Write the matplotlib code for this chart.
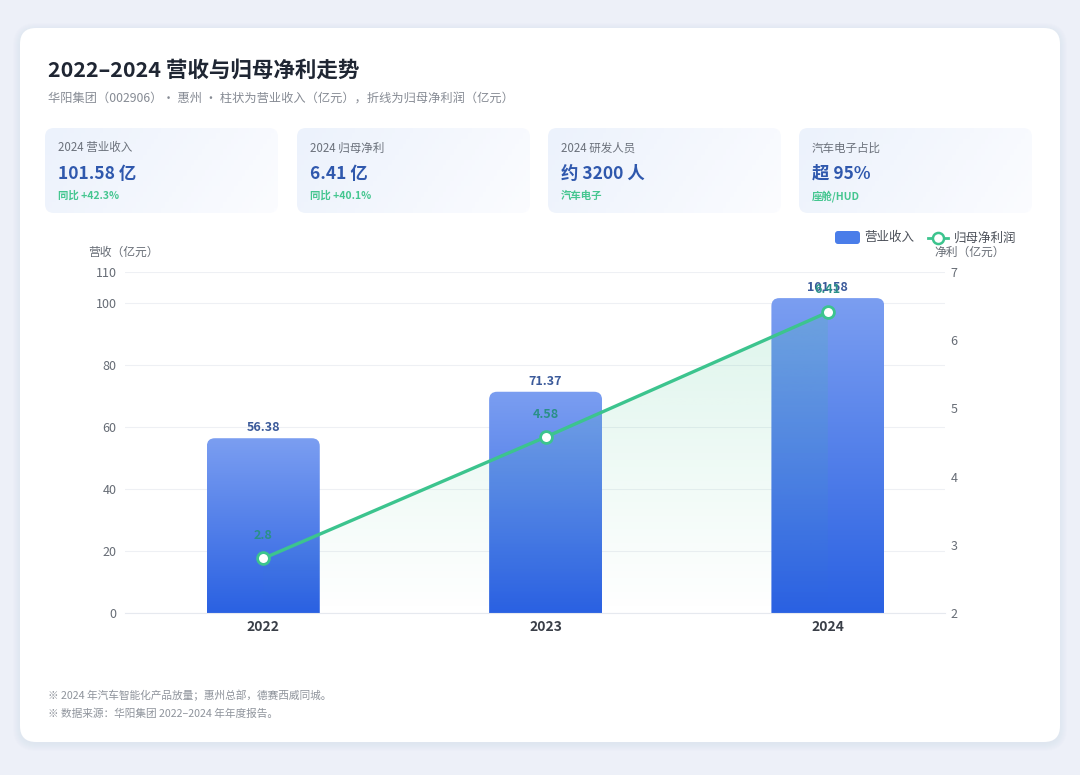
import numpy as np
import matplotlib
matplotlib.use('Agg')
import matplotlib.pyplot as plt
from matplotlib.patches import FancyBboxPatch, Polygon
from matplotlib.colors import LinearSegmentedColormap, to_rgb
from matplotlib.lines import Line2D

plt.rcParams['font.family'] = ['Noto Sans CJK SC', 'DejaVu Sans']

# data
years = ['2022', '2023', '2024']
revenue = [56.38, 71.37, 101.58]
profit = [2.8, 4.58, 6.41]
profit_labels = ['2.8', '4.58', '6.41']
rev_ticks = [0, 20, 40, 60, 80, 100, 110]
profit_ticks = [2, 3, 4, 5, 6, 7]

kpi_titles = ['2024 营业收入', '2024 归母净利', '2024 研发人员', '汽车电子占比']
kpi_values = ['101.58 亿', '6.41 亿', '约 3200 人', '超 95%']
kpi_notes = ['同比 +42.3%', '同比 +40.1%', '汽车电子', '座舱/HUD']

title = '2022–2024 营收与归母净利走势'
subtitle = '华阳集团（002906）· 惠州 · 柱状为营业收入（亿元），折线为归母净利润（亿元）'
notes = ['※ 2024 年汽车智能化产品放量；惠州总部，德赛西威同城。',
         '※ 数据来源：华阳集团 2022–2024 年年度报告。']

GREEN = '#3cc48e'
W, H = 1080, 775
fig = plt.figure(figsize=(W / 100, H / 100), dpi=100)
fig.patch.set_facecolor('#edf0f8')

# background layer in pixel coords
bg = fig.add_axes([0, 0, 1, 1])
bg.axis('off')

for i in range(8):
    bg.add_patch(FancyBboxPatch((20 - i, 30 - i), 1040 + 2 * i, 714 + 2 * i,
                                boxstyle=f'round,pad=0,rounding_size={16 + i}',
                                fc='#b8c3e0', ec='none', alpha=0.025))
bg.add_patch(FancyBboxPatch((20, 28), 1040, 714, boxstyle='round,pad=0,rounding_size=16',
                            fc='white', ec='none'))

bg.text(48, 70, title, fontsize=15.5, fontweight='bold', color='#1f2633', va='center')
bg.text(48, 99, subtitle, fontsize=8.8, color='#868b94', va='center')

card_x = [45, 297, 548, 799]
gx, gy = np.meshgrid(np.linspace(0, 1, 64), np.linspace(0, 1, 16))
kgrad = np.clip(0.8 * gx + 0.2 * gy, 0, 1)
kcmap = LinearSegmentedColormap.from_list('k', ['#ecf2fc', '#fbfcff'])
for cx, t, v, n in zip(card_x, kpi_titles, kpi_values, kpi_notes):
    p = FancyBboxPatch((cx, 128), 233, 85, boxstyle='round,pad=0,rounding_size=9',
                       fc='none', ec='none')
    bg.add_patch(p)
    bg.imshow(kgrad, cmap=kcmap, extent=(cx, cx + 233, 213, 128), aspect='auto',
              clip_path=p, zorder=2)
    bg.text(cx + 13, 148, t, fontsize=8.3, color='#6b717b', va='center', zorder=3)
    bg.text(cx + 13, 174, v, fontsize=12.5, fontweight='bold', color='#2f58ad', va='center', zorder=3)
    bg.text(cx + 13, 196, n, fontsize=7.5, fontweight='bold', color='#45c690', va='center', zorder=3)

# legend + axis titles
bg.add_patch(FancyBboxPatch((835, 231), 25, 13, boxstyle='round,pad=0,rounding_size=3',
                            fc='#4a7de9', ec='none'))
bg.text(864, 238, '营业收入', fontsize=9, color='#4b5059', va='center')
bg.add_line(Line2D([928, 948], [238, 238], color=GREEN, lw=2))
bg.add_line(Line2D([938], [238], marker='o', ms=8, mfc='white', mec=GREEN, mew=1.8))
bg.text(954, 238, '归母净利润', fontsize=9, color='#4b5059', va='center')
bg.text(88, 252, '营收（亿元）', fontsize=8.5, color='#666c75', va='center')
bg.text(934, 252, '净利（亿元）', fontsize=8.5, color='#666c75', va='center')

for k, line in enumerate(notes):
    bg.text(48, 695 + 19 * k, line, fontsize=7.7, color='#8f949c', va='center')

bg.set_xlim(0, W)
bg.set_ylim(H, 0)

# chart
ax = fig.add_axes([125 / W, 1 - 613 / H, 820 / W, 341 / H])
ax.set_facecolor('none')
x = np.arange(len(years))
ax.set_xlim(-0.49, 2.415)
ax.set_ylim(0, 110)
ax.grid(axis='y', color='#eef0f4', lw=0.8)
ax.set_axisbelow(True)

p0 = ax.transData.transform((0, 0))
p1 = ax.transData.transform((1, 1))
px_x, px_y = p1[0] - p0[0], p1[1] - p0[1]
aspect = px_x / px_y
rad = 8 / px_x

bar_cmap = LinearSegmentedColormap.from_list('b', ['#2a61e2', '#7b9ef1'])
grad = np.linspace(0, 1, 256).reshape(-1, 1)
bars = ax.bar(x, revenue, width=0.4, color='none', ec='none')
for b, v in zip(bars, revenue):
    bx, bw, bh = b.get_x(), b.get_width(), b.get_height()
    clip = FancyBboxPatch((bx, -6), bw, bh + 6, boxstyle=f'round,pad=0,rounding_size={rad}',
                          mutation_aspect=aspect, fc='none', ec='none', transform=ax.transData)
    ax.add_patch(clip)
    ax.imshow(grad, cmap=bar_cmap, extent=(bx, bx + bw, 0, bh), origin='lower',
              aspect='auto', clip_path=clip, zorder=2)
    ax.annotate(f'{v:.2f}', (b.get_x() + bw / 2, bh), xytext=(0, 7.5), textcoords='offset points',
                ha='center', va='center', fontsize=9, fontweight='bold', color='#3b5a9a', zorder=6)

ax.set_xticks(x, years)
ax.set_yticks(rev_ticks)
ax.tick_params(axis='y', length=0, pad=6, labelsize=9, labelcolor='#666c75')
ax.tick_params(axis='x', length=0, pad=5, labelsize=10, labelcolor='#3a3f48')
for lbl in ax.get_xticklabels():
    lbl.set_fontweight('bold')
for s in ['top', 'left', 'right']:
    ax.spines[s].set_visible(False)
ax.spines['bottom'].set_color('#e6e9ef')

ax2 = ax.twinx()
ax2.set_ylim(2, 7)
verts = list(zip(x, profit)) + [(x[-1], 2), (x[0], 2)]
poly = Polygon(verts, closed=True, fc='none', ec='none', transform=ax2.transData)
ax2.add_patch(poly)
fill = np.zeros((256, 1, 4))
fill[..., :3] = to_rgb(GREEN)
fill[..., 3] = np.linspace(0.0, 0.17, 256).reshape(-1, 1)
ax2.imshow(fill, extent=(x[0], x[-1], 2, max(profit)), origin='lower', aspect='auto',
           clip_path=poly, zorder=3)
ax2.plot(x, profit, color=GREEN, lw=2.4, marker='o', ms=8.5, mfc='white', mec=GREEN,
         mew=2, zorder=5)
for xi, v, t in zip(x, profit, profit_labels):
    ax2.annotate(t, (xi, v), xytext=(0, 16.5), textcoords='offset points', ha='center',
                 va='center', fontsize=9, fontweight='bold', color='#2a9088', zorder=6)
ax2.set_yticks(profit_ticks)
ax2.tick_params(axis='y', length=0, pad=4, labelsize=9, labelcolor='#666c75')
for s in ax2.spines.values():
    s.set_visible(False)
ax2.set_xlim(-0.49, 2.415)
ax2.set_ylim(2, 7)
ax.set_ylim(0, 110)

fig.savefig('out.png', dpi=100, facecolor=fig.get_facecolor())
